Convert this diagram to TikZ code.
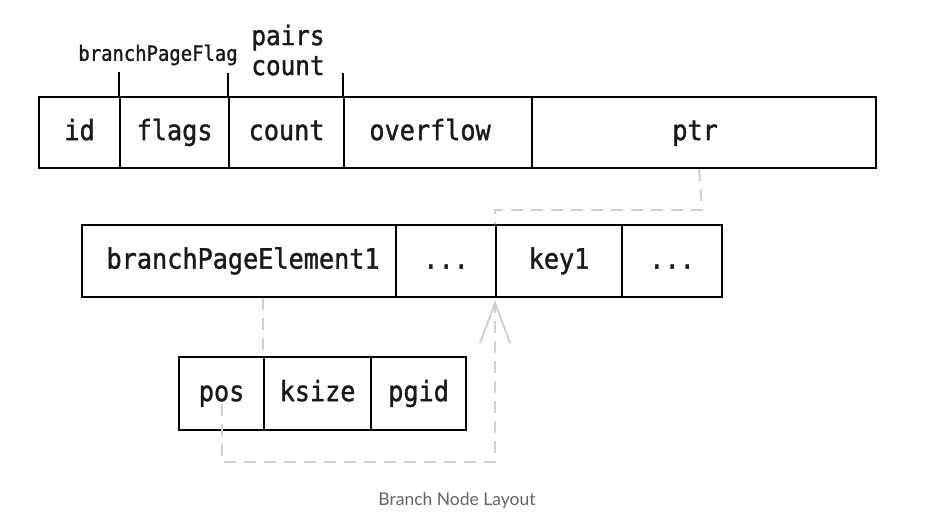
\documentclass[tikz,border=0pt]{standalone}
\usepackage{fontspec}
\newfontfamily\mono[FakeStretch=0.9,FakeBold=1.3]{DejaVu Sans Mono}
\newfontfamily\capfont{Lato}
\usetikzlibrary{arrows.meta}
\definecolor{conngrey}{RGB}{208,208,208}
\definecolor{capgrey}{RGB}{100,100,100}
\tikzset{
  cell/.style={draw=black, line width=2.2pt, inner sep=0pt, anchor=north west,
    font=\mono\fontsize{28}{30}\selectfont, text=black!90,
    text height=20pt, text depth=5pt},
  row1/.style={cell, minimum height=71pt},
  row2/.style={cell, minimum height=72pt},
  row3/.style={cell, minimum height=73pt},
  tick/.style={draw=black, line width=2.2pt},
  conn/.style={draw=conngrey, line width=2pt, dash pattern=on 12pt off 8pt},
  toplabel/.style={inner sep=0pt, text=black!90},
}
\begin{document}
\begin{tikzpicture}[x=1pt,y=-1pt]
\useasboundingbox (0,0) rectangle (936,523);
% top row
\node[row1, minimum width=81pt] (id) at (38,96) {id};
\node[row1, minimum width=109pt] (flags) at (119,96) {flags};
\node[row1, minimum width=115pt] (count) at (228,96) {count};
\node[row1, minimum width=188pt] (overflow) at (343,96) {\hspace*{-16pt}overflow};
\node[row1, minimum width=344pt] (ptr) at (531,96) {\hspace*{-18pt}ptr};
% ticks
\draw[tick] (flags.north west) -- ++(0,-24);
\draw[tick] (count.north west) -- ++(0,-23);
\draw[tick] (overflow.north west) -- ++(0,-23);
\node[toplabel, font=\mono\fontsize{21}{24}\selectfont] (bpf) at (158,55) {branchPageFlag};
\node[toplabel, font=\mono\fontsize{27}{30}\selectfont, align=center] (pc) at (288,50) {pairs\\count};
% second row
\node[row2, minimum width=314pt] (bpe) at (81,224) {\hspace*{8pt}branchPageElement1};
\node[row2, minimum width=100pt] (dotsa) at (395,224) {...};
\node[row2, minimum width=126pt] (key1) at (495,224) {key1};
\node[row2, minimum width=100pt] (dotsb) at (621,224) {...};
% third row
\node[row3, minimum width=85pt] (pos) at (178,356) {pos};
\node[row3, minimum width=107pt] (ksize) at (263,356) {ksize};
\node[row3, minimum width=95pt] (pgid) at (370,356) {pgid};
% connectors
\draw[conn] ([xshift=-5pt]ptr.south) -- ++(3,41) -| (key1.north west);
\draw[conn] (bpe.south -| ksize.north west) -- (ksize.north west);
\draw[conn, -{Straight Barb[length=40pt,width=30pt,line width=2pt]}]
  ([yshift=-10pt]pos.center) -- ++(0,58) -| ([yshift=-2pt]key1.south west);
% caption
\node[inner sep=0pt, text=capgrey, font=\capfont\fontsize{17.5}{20}\selectfont] (cap) at (457,501) {Branch Node Layout};
\end{tikzpicture}
\end{document}
